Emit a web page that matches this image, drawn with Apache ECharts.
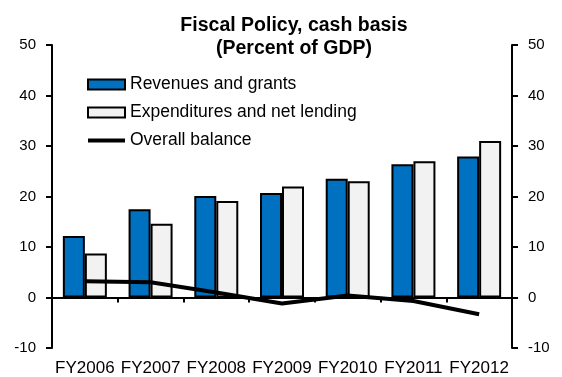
<!DOCTYPE html>
<html>
<head>
<meta charset="utf-8">
<script src="https://cdn.jsdelivr.net/npm/echarts@6/dist/echarts.min.js"></script>
<style>
  html, body { margin: 0; padding: 0; background: #fff; }
  #chart { width: 562px; height: 377px; }
</style>
</head>
<body>
<div id="chart"></div>
<script>
// Fiscal policy, cash basis, percent of GDP
const categories = ['FY2006', 'FY2007', 'FY2008', 'FY2009', 'FY2010', 'FY2011', 'FY2012'];
const revenues = [12.2, 17.5, 20.1, 20.7, 23.5, 26.4, 27.9];
const expenditures = [8.7, 14.6, 19.1, 22.0, 23.0, 27.0, 31.0];
const balance = [3.2, 3.0, 1.0, -1.2, 0.4, -0.7, -3.3];
const yTicks = [-10, 0, 10, 20, 30, 40, 50];

const FONT = 'Liberation Sans, Arial, sans-serif';
const chart = echarts.init(document.getElementById('chart'), null, { renderer: 'canvas' });

const valueAxis = (pos) => ({
  type: 'value',
  position: pos,
  min: yTicks[0],
  max: yTicks[yTicks.length - 1],
  interval: 10,
  axisLine: { show: true, lineStyle: { color: '#000', width: 2 } },
  axisTick: { show: true, inside: false, length: 6, lineStyle: { color: '#000', width: 2 } },
  axisLabel: { color: '#000', fontFamily: FONT, fontSize: 15, margin: 16 },
  splitLine: { show: false }
});

chart.setOption({
  animation: false,
  title: {
    text: 'Fiscal Policy, cash basis\n(Percent of GDP)',
    left: 289,
    textAlign: 'center',
    top: 9,
    textStyle: { fontFamily: FONT, fontSize: 19.5, fontWeight: 'bold', color: '#000', lineHeight: 23 }
  },
  grid: { left: 52, right: 50, top: 45, bottom: 28 },
  legend: {
    orient: 'vertical',
    left: 82,
    top: 70,
    itemWidth: 37,
    itemHeight: 10,
    itemGap: 9,
    textStyle: { fontFamily: FONT, fontSize: 17.5, color: '#000', lineHeight: 19, padding: [0, 0, 0, 0] },
    data: [
      { name: 'Revenues and grants', icon: 'rect' },
      { name: 'Expenditures and net lending', icon: 'rect' },
      { name: 'Overall balance', icon: 'path://M0,0H37V4H0Z' }
    ]
  },
  xAxis: [
    {
      type: 'category',
      data: categories,
      boundaryGap: true,
      axisLine: { onZero: true, lineStyle: { color: '#000', width: 2 } },
      axisTick: { show: true, length: 5, alignWithLabel: false, lineStyle: { color: '#000', width: 2 } },
      axisLabel: { show: false }
    },
    {
      type: 'category',
      data: categories,
      position: 'bottom',
      boundaryGap: true,
      axisLine: { show: false, onZero: false },
      axisTick: { show: false },
      axisLabel: { color: '#000', fontFamily: FONT, fontSize: 17, margin: 12, interval: 0 }
    }
  ],
  yAxis: [valueAxis('left'), valueAxis('right')],
  series: [
    {
      name: 'Revenues and grants',
      type: 'bar',
      data: revenues,
      barWidth: 22,
      barGap: '0%',
      itemStyle: { color: '#0070C0', borderColor: '#000', borderWidth: 2 }
    },
    {
      name: 'Expenditures and net lending',
      type: 'bar',
      data: expenditures,
      barWidth: 22,
      barGap: '0%',
      itemStyle: { color: '#F2F2F2', borderColor: '#000', borderWidth: 2 }
    },
    {
      name: 'Overall balance',
      type: 'line',
      data: balance,
      symbol: 'none',
      lineStyle: { color: '#000', width: 4 },
      itemStyle: { color: '#000' },
      z: 5
    }
  ]
});
</script>
</body>
</html>
